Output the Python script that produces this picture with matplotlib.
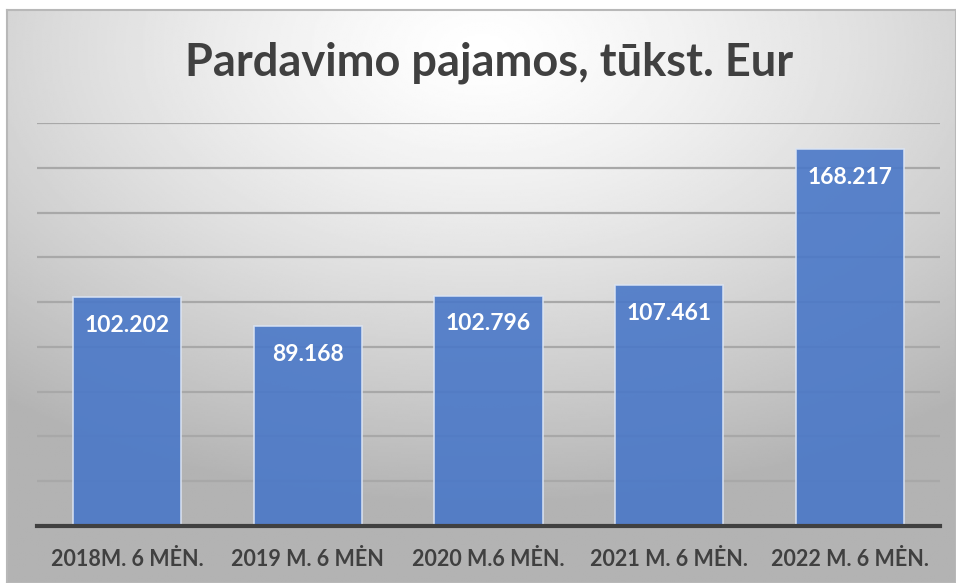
import matplotlib
matplotlib.use("Agg")
import matplotlib.pyplot as plt
import numpy as np

# Data
categories = ["2018M. 6 MĖN.", "2019 M. 6 MĖN", "2020 M.6 MĖN.", "2021 M. 6 MĖN.", "2022 M. 6 MĖN."]
values = [102.202, 89.168, 102.796, 107.461, 168.217]
value_labels = ["102.202", "89.168", "102.796", "107.461", "168.217"]
title = "Pardavimo pajamos, tūkst. Eur"

W, H = 956, 583
fig = plt.figure(figsize=(W / 100, H / 100), dpi=100)
fig.patch.set_facecolor("white")

# Gradient background of the chart area
bg = fig.add_axes([7 / W, 0, 1 - 7 / W, 1 - 10 / H])
yy, xx = np.mgrid[0:300, 0:500]
cx, cy = 250, 20
r = np.sqrt(((xx - cx) / 500) ** 2 + ((yy - cy) / 300) ** 2)
shade = 1.0 - 0.30 * np.clip(r / 0.8, 0, 1) ** 1.3
bg.imshow(shade, cmap="gray", vmin=0, vmax=1, aspect="auto", extent=[0, 1, 0, 1], origin="upper")
bg.set_xticks([])
bg.set_yticks([])
for s in bg.spines.values():
    s.set_color("#b8b8b8")
    s.set_linewidth(1.5)

# Plot area
left, right = 37 / W, 940 / W
bottom, top = 1 - 526 / H, 1 - 123 / H
ax = fig.add_axes([left, bottom, right - left, top - bottom])
ax.patch.set_alpha(0)
x = np.arange(len(categories))
ax.bar(x, values, width=0.6, color="#4a78c8", alpha=0.9,
       edgecolor="#dbe4f3", linewidth=1.2, zorder=2)
ax.set_xlim(-0.5, len(categories) - 0.5)
ax.set_ylim(0, 180)
ax.set_yticks(np.arange(20, 181, 20))
ax.yaxis.grid(True, color="#a8a8a8", linewidth=1.6, zorder=1)
ax.set_axisbelow(True)
ax.tick_params(axis="y", left=False, labelleft=False)
ax.tick_params(axis="x", bottom=False, pad=13)
ax.set_xticks(x)
ax.set_xticklabels(categories, fontsize=15.5, fontweight="bold", color="#404040", family="Lato")
for s in ["top", "left", "right"]:
    ax.spines[s].set_visible(False)
ax.spines["bottom"].set_color("#404040")
ax.spines["bottom"].set_linewidth(3)
ax.spines["bottom"].set_zorder(3)

for xi, v, lab in zip(x, values, value_labels):
    ax.annotate(lab, (xi, v), xytext=(0, -28), textcoords="offset pixels",
                ha="center", va="center", color="white", fontsize=16.5, fontweight="bold",
                family="Lato", zorder=4)

fig.text(489 / W, 1 - 63 / H, title, ha="center", va="center", fontsize=32.5,
         fontweight="bold", color="#404040", family="Lato")

fig.savefig("out.png", dpi=100)
